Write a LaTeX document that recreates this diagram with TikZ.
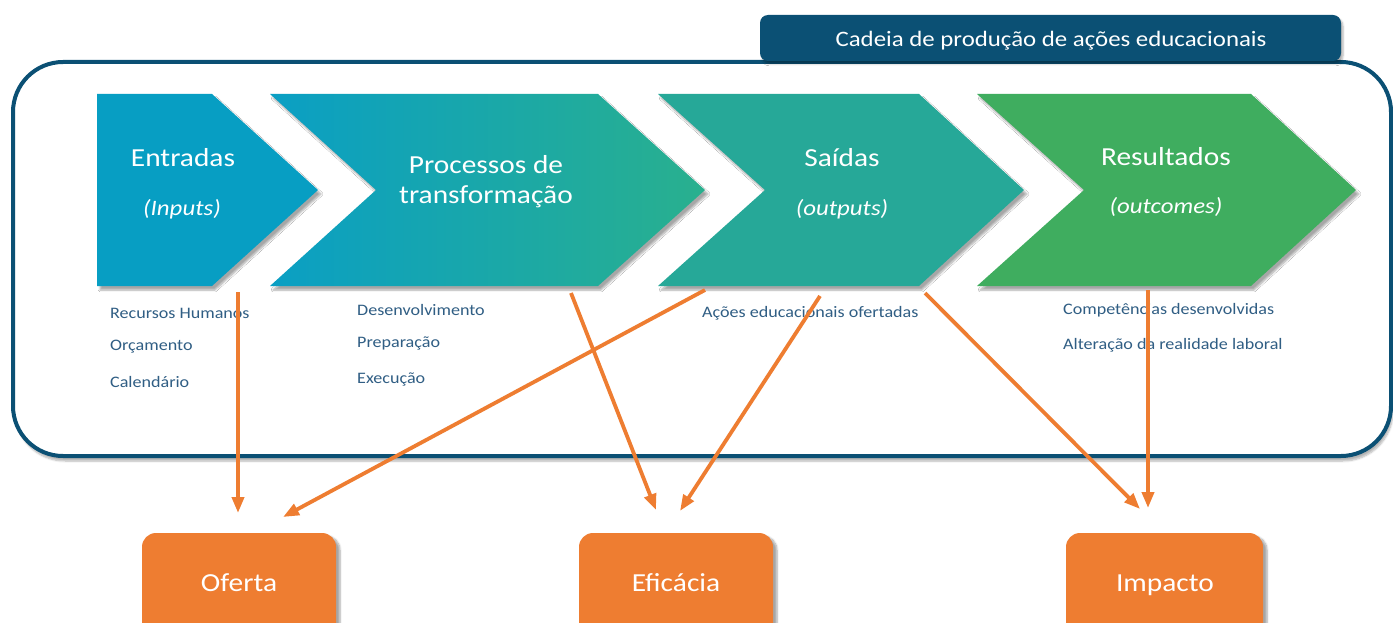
\documentclass[tikz,border=0pt]{standalone}
\usepackage{fontspec}
\setmainfont{Carlito}
\usetikzlibrary{arrows.meta,shadows.blur}
\definecolor{navy}{HTML}{0B5074}
\definecolor{cin}{HTML}{079EC3}
\definecolor{cproA}{HTML}{0A9FC4}
\definecolor{cproB}{HTML}{29B08E}
\definecolor{cout}{HTML}{26A898}
\definecolor{cres}{HTML}{3FAD5F}
\definecolor{corange}{HTML}{EE7D31}
\definecolor{smalltxt}{HTML}{305E84}
\newcommand\sx[1]{\scalebox{1.13}[1]{#1}}
\tikzset{
  chev/.style={draw=none, blur shadow={shadow xshift=3pt, shadow yshift=-4pt, shadow blur steps=6, shadow opacity=35}},
  bigtxt/.style={text=white, font=\fontsize{26}{30}\selectfont, inner sep=0pt},
  ittxt/.style={text=white, font=\fontsize{22}{26}\selectfont\itshape, inner sep=0pt},
  smalltxt/.style={text=smalltxt, font=\fontsize{16}{19}\selectfont, anchor=west, inner sep=0pt},
  arr/.style={draw=corange, line width=3.8pt, -{Triangle[length=16pt,width=12pt]}},
  obox/.style={fill=corange, rounded corners=14pt, blur shadow={shadow xshift=4pt, shadow yshift=-3pt, shadow blur steps=6, shadow opacity=35}},
}
\begin{document}
\begin{tikzpicture}[x=1pt,y=-1pt]
\useasboundingbox (0,0) rectangle (1393,623);
\clip (0,0) rectangle (1393,623);
% outer frame
\draw[navy, fill=white, line width=4pt, rounded corners=50pt, blur shadow={shadow xshift=2pt, shadow yshift=-5pt, shadow blur steps=6, shadow opacity=30}] (13,62) rectangle (1391,456);
% title box
\fill[navy, rounded corners=8pt, blur shadow={shadow xshift=2pt, shadow yshift=-3pt, shadow blur steps=5, shadow opacity=30}] (760,15) rectangle (1341,61);
\node[text=white, font=\fontsize{22}{26}\selectfont] (title) at (1051,41) {\sx{Cadeia de produção de ações educacionais}};
% chevrons
\fill[cin, chev] (97,94) -- (212,94) -- (318,190) -- (212,286) -- (97,286) -- cycle;
\shade[chev, left color=cproA, right color=cproB] (270,94) -- (598,94) -- (705,190) -- (598,286) -- (270,286) -- (376,190) -- cycle;
\fill[cout, chev] (658,94) -- (919,94) -- (1024,190) -- (919,286) -- (658,286) -- (765,190) -- cycle;
\fill[cres, chev] (977,94) -- (1251,94) -- (1356,190) -- (1251,286) -- (977,286) -- (1084,190) -- cycle;
% chevron labels
\node[bigtxt] (in1) at (183,158) {\sx{Entradas}};
\node[ittxt] (in2) at (182,209) {\sx{(Inputs)}};
\node[bigtxt] (pr1) at (486,165) {\sx{Processos de}};
\node[bigtxt] (pr2) at (486,197) {\sx{transformação}};
\node[bigtxt] (ou1) at (842,158) {\sx{Saídas}};
\node[ittxt] (ou2) at (842,209) {\sx{(outputs)}};
\node[bigtxt] (re1) at (1166,157) {\sx{Resultados}};
\node[ittxt] (re2) at (1166,207) {\sx{(outcomes)}};
% small texts
\node[smalltxt] (s1) at (110,313) {\sx{Recursos Humanos}};
\node[smalltxt] (s2) at (110,347) {\sx{Orçamento}};
\node[smalltxt] (s3) at (110,382) {\sx{Calendário}};
\node[smalltxt] (s4) at (357,310) {\sx{Desenvolvimento}};
\node[smalltxt] (s5) at (357,343) {\sx{Preparação}};
\node[smalltxt] (s6) at (357,379) {\sx{Execução}};
\node[smalltxt] (s7) at (702,313) {\sx{Ações educacionais ofertadas}};
\node[smalltxt] (s8) at (1063,310) {\sx{Competências desenvolvidas}};
\node[smalltxt] (s9) at (1063,345) {\sx{Alteração da realidade laboral}};
% orange boxes
\path[obox] (142,533) rectangle (336,660);
\path[obox] (579,533) rectangle (773,660);
\path[obox] (1066,533) rectangle (1263,660);
\node[bigtxt] (oferta) at (239,583) {\sx{Oferta}};
\node[bigtxt] (eficacia) at (676,583) {\sx{Eficácia}};
\node[bigtxt] (impacto) at (1165,585) {\sx{Impacto}};
% arrow endpoints
\coordinate (a1s) at (238,292);  \coordinate (a1e) at (238,513);
\coordinate (a2s) at (705,290);  \coordinate (a2e) at (283,517);
\coordinate (a3s) at (571,293);  \coordinate (a3e) at (656,510);
\coordinate (a4s) at (820,296);  \coordinate (a4e) at (680,511);
\coordinate (a5s) at (925,293);  \coordinate (a5e) at (1140,509);
\coordinate (a6s) at (1148,290); \coordinate (a6e) at (1148,508);
\draw[arr] (a1s) -- (a1e);
\draw[arr] (a2s) -- (a2e);
\draw[arr] (a3s) -- (a3e);
\draw[arr] (a4s) -- (a4e);
\draw[arr] (a5s) -- (a5e);
\draw[arr] (a6s) -- (a6e);
\end{tikzpicture}
\end{document}
